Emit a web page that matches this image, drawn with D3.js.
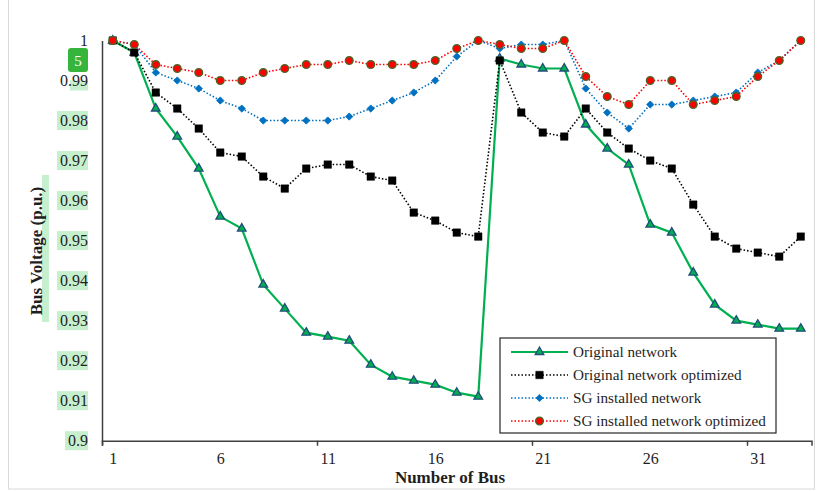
<!DOCTYPE html>
<html>
<head>
<meta charset="utf-8">
<script src="https://cdn.jsdelivr.net/npm/d3@7"></script>
<style>
  body { margin: 0; background: #fff; }
  svg { display: block; }
  text { font-family: "Liberation Serif", "Times New Roman", serif; fill: #1f1f1f; }
</style>
</head>
<body>
<div id="chart"></div>
<script>
// bus numbers on the x axis
var buses = [1,2,3,4,5,6,7,8,9,10,11,12,13,14,15,16,17,18,19,20,21,22,23,24,25,26,27,28,29,30,31,32,33];
var xLabels = [1, 6, 11, 16, 21, 26, 31];
var yTicks = [0.9, 0.91, 0.92, 0.93, 0.94, 0.95, 0.96, 0.97, 0.98, 0.99, 1];

var original = [1, 0.997, 0.983, 0.976, 0.968, 0.956, 0.953, 0.939, 0.933, 0.927, 0.926, 0.925, 0.919, 0.916, 0.915, 0.914, 0.912, 0.911,
                0.9955, 0.994, 0.993, 0.993, 0.979, 0.973, 0.969, 0.954, 0.952, 0.942, 0.934, 0.930, 0.929, 0.928, 0.928];
var originalOpt = [1, 0.997, 0.987, 0.983, 0.978, 0.972, 0.971, 0.966, 0.963, 0.968, 0.969, 0.969, 0.966, 0.965, 0.957, 0.955, 0.952, 0.951,
                   0.995, 0.982, 0.977, 0.976, 0.983, 0.977, 0.973, 0.970, 0.968, 0.959, 0.951, 0.948, 0.947, 0.946, 0.951];
var sgInstalled = [1, 0.999, 0.992, 0.990, 0.988, 0.985, 0.983, 0.980, 0.980, 0.980, 0.980, 0.981, 0.983, 0.985, 0.987, 0.990, 0.996, 1,
                   0.998, 0.999, 0.999, 1, 0.988, 0.982, 0.978, 0.984, 0.984, 0.985, 0.986, 0.987, 0.992, 0.995, 1];
var sgOpt = [1, 0.999, 0.994, 0.993, 0.992, 0.990, 0.990, 0.992, 0.993, 0.994, 0.994, 0.995, 0.994, 0.994, 0.994, 0.995, 0.998, 1,
             0.999, 0.998, 0.998, 1, 0.991, 0.986, 0.984, 0.990, 0.990, 0.984, 0.985, 0.986, 0.991, 0.995, 1];

var seriesNames = ["Original network", "Original network optimized", "SG installed network", "SG installed network optimized"];

var width = 817, height = 491;

var svg = d3.select("#chart").append("svg")
    .attr("width", width)
    .attr("height", height);

// chart area border
svg.append("rect")
    .attr("x", 8.5).attr("y", -1)
    .attr("width", 806).attr("height", 490)
    .attr("fill", "none")
    .attr("stroke", "#d9d9d9");

var x = d3.scaleLinear().domain([0.5, 33.5]).range([102, 811.5]);
var y = d3.scaleLinear().domain([0.9, 1]).range([440.7, 40.5]);

// y tick label highlights (as in the reference)
var hl = svg.append("g").attr("fill", "#c6efce");
yTicks.forEach(function(v){
    if (v === 1) return;
    if (v === 0.99) { hl.append("rect").attr("x", 70).attr("y", y(v)).attr("width", 18).attr("height", 10); return; }
    var w = v === 0.9 ? 23 : 31;
    hl.append("rect").attr("x", 88 - w).attr("y", y(v) - 9.5).attr("width", w).attr("height", 19);
});
hl.append("rect").attr("x", 42).attr("y", 175).attr("width", 7).attr("height", 147);

// y axis
var yAxis = svg.append("g")
    .attr("transform", "translate(102,0)")
    .call(d3.axisLeft(y).tickValues(yTicks).tickSize(0).tickPadding(14)
        .tickFormat(function(d){ return String(+d.toFixed(2)); }));
yAxis.select(".domain").attr("stroke", "#404040").attr("stroke-width", 1.5);
yAxis.selectAll("text").attr("font-size", 16).attr("font-family", "Liberation Serif").attr("fill", "#1f1f1f");

// x axis: labels every 5 buses, tick marks every 10 category boundaries
var xAxis = svg.append("g")
    .attr("transform", "translate(0,440.7)")
    .call(d3.axisBottom(x).tickValues([0.5, 10.5, 20.5, 30.5]).tickSize(5).tickFormat(""));
xAxis.select(".domain").attr("stroke", "#404040").attr("stroke-width", 1.5);
xAxis.selectAll("line").attr("stroke", "#404040").attr("stroke-width", 1.5);

var xLab = svg.append("g")
    .attr("transform", "translate(0,440.7)")
    .call(d3.axisBottom(x).tickValues(xLabels).tickSize(0).tickPadding(12).tickFormat(d3.format("d")));
xLab.select(".domain").remove();
xLab.selectAll("text").attr("font-size", 16).attr("font-family", "Liberation Serif").attr("fill", "#1f1f1f");

// axis titles
svg.append("text")
    .attr("x", 450).attr("y", 483)
    .attr("text-anchor", "middle")
    .attr("font-size", 17).attr("font-weight", "bold")
    .text("Number of Bus");

svg.append("text")
    .attr("transform", "translate(42,251) rotate(-90)")
    .attr("text-anchor", "middle")
    .attr("font-size", 17).attr("font-weight", "bold")
    .text("Bus Voltage (p.u.)");

// series
var styles = [
  {values: original, stroke: "#00b050", width: 2.2, dash: null, symbol: d3.symbolTriangle, size: 32, rot: 0, fill: "#00b050", mstroke: "#1f4e79", mwidth: 1.3},
  {values: originalOpt, stroke: "#000", width: 1.6, dash: "1.5,2", symbol: d3.symbolSquare, size: 56, rot: 0, fill: "#000", mstroke: "#000", mwidth: 0.5},
  {values: sgInstalled, stroke: "#0070c0", width: 1.6, dash: "1.5,2", symbol: d3.symbolSquare, size: 26, rot: 45, fill: "#0070c0", mstroke: "#0070c0", mwidth: 0.8},
  {values: sgOpt, stroke: "#ff0000", width: 1.6, dash: "1.5,2", symbol: d3.symbolCircle, size: 46, rot: 0, fill: "#ff0000", mstroke: "#4f6228", mwidth: 1.4}
];

var line = d3.line()
    .x(function(d){ return x(d[0]); })
    .y(function(d){ return y(d[1]); });

styles.forEach(function(s){
    var pts = buses.map(function(b, i){ return [b, s.values[i]]; });
    svg.append("path")
        .datum(pts)
        .attr("d", line)
        .attr("fill", "none")
        .attr("stroke", s.stroke)
        .attr("stroke-width", s.width)
        .attr("stroke-dasharray", s.dash);
    svg.append("g").selectAll("path")
        .data(pts)
        .enter()
        .append("path")
        .attr("d", d3.symbol().type(s.symbol).size(s.size))
        .attr("transform", function(d){ return "translate(" + x(d[0]) + "," + y(d[1]) + ") rotate(" + s.rot + ")"; })
        .attr("fill", s.fill)
        .attr("stroke", s.mstroke)
        .attr("stroke-width", s.mwidth);
});

// legend
var legend = svg.append("g").attr("transform", "translate(500,338)");
legend.append("rect")
    .attr("width", 276).attr("height", 95)
    .attr("fill", "#fff")
    .attr("stroke", "#262626")
    .attr("stroke-width", 1.2);

styles.forEach(function(s, i){
    var g = legend.append("g").attr("transform", "translate(0," + (14 + i * 23) + ")");
    g.append("line")
        .attr("x1", 11).attr("x2", 68)
        .attr("stroke", s.stroke)
        .attr("stroke-width", s.width)
        .attr("stroke-dasharray", s.dash);
    g.append("path")
        .attr("d", d3.symbol().type(s.symbol).size(s.size))
        .attr("transform", "translate(39.5,0) rotate(" + s.rot + ")")
        .attr("fill", s.fill)
        .attr("stroke", s.mstroke)
        .attr("stroke-width", s.mwidth);
    g.append("text")
        .attr("x", 73).attr("y", 5)
        .attr("font-size", 15.2)
        .text(seriesNames[i]);
});

// green "5" badge near the top of the y axis
svg.append("rect")
    .attr("x", 68).attr("y", 48)
    .attr("width", 20).attr("height", 24)
    .attr("rx", 3)
    .attr("fill", "#36b53c");
svg.append("text")
    .attr("x", 78).attr("y", 65.5)
    .attr("text-anchor", "middle")
    .attr("font-family", "DejaVu Sans")
    .attr("font-size", 15)
    .style("fill", "#fff")
    .text("5");
</script>
</body>
</html>
